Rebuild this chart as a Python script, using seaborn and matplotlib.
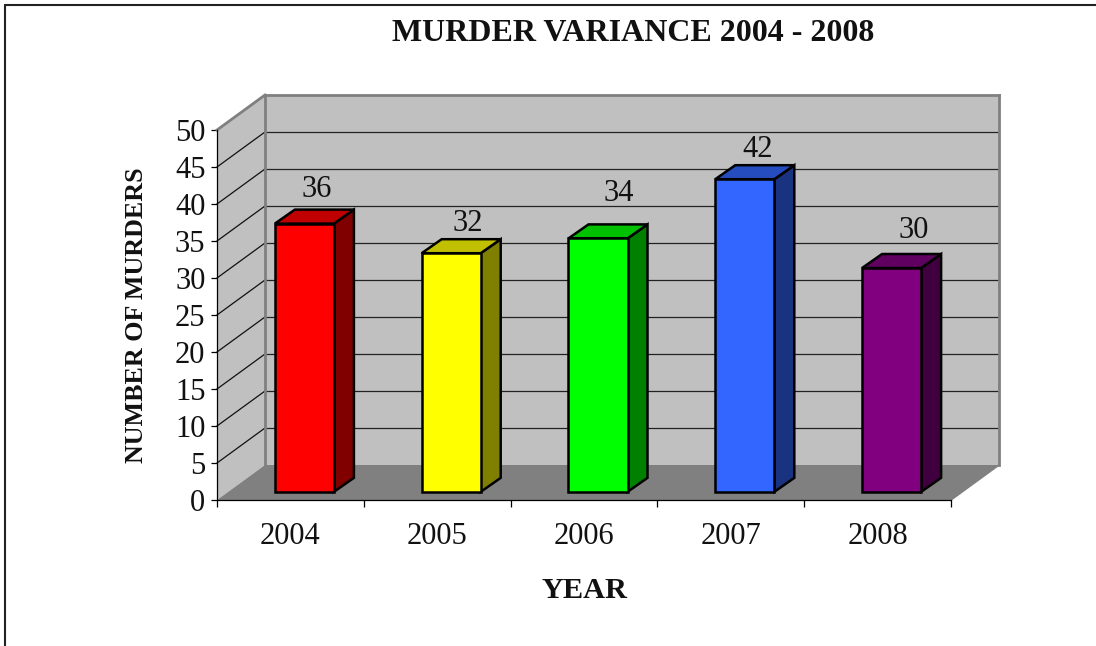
import matplotlib
matplotlib.use("Agg")
import matplotlib.pyplot as plt
import seaborn as sns
from matplotlib.lines import Line2D
from matplotlib.patches import Polygon
from matplotlib.transforms import IdentityTransform, Affine2D

years = ["2004", "2005", "2006", "2007", "2008"]
murders = [36, 32, 34, 42, 30]
y_ticks = [0, 5, 10, 15, 20, 25, 30, 35, 40, 45, 50]

front_colors = ["#ff0000", "#ffff00", "#00ff00", "#3366ff", "#800080"]
side_colors = ["#800000", "#808000", "#008000", "#1a3380", "#400040"]
top_colors = ["#c00000", "#c0c000", "#00c000", "#264dc0", "#600060"]

# where Excel happened to put each value label, pixels from the value's spot
label_dx = [26, 31, 35, 27, 36]
label_dy = [44, 40, 55, 40, 48]

sns.set_style("white")
plt.rcParams["font.family"] = ["Liberation Serif", "DejaVu Serif"]

W, H = 1096, 646
fig = plt.figure(figsize=(W / 100, H / 100), dpi=100)
ax = fig.add_axes([217 / W, (H - 500) / H, 734 / W, 370 / H])

# depth of the box and of the bars, pixels
DEPTH_X, DEPTH_Y = 48, 35
BAR_X, BAR_Y = 14, 10
BAR_DX, BAR_DY = 20, 14

sns.barplot(x=years, y=murders, hue=years, palette=front_colors, legend=False,
            width=0.402, saturation=1, edgecolor="black", linewidth=1.8, ax=ax, zorder=5)
ax.set_xlim(-0.5, 4.5)
ax.set_ylim(0, 50)


def to_px(x, y, dx=0, dy=0):
    px, py = ax.transData.transform((x, y))
    return (px + dx, py + dy)


def poly(points, color, edge="none", lw=0, zorder=1):
    ax.add_patch(Polygon(points, closed=True, facecolor=color, edgecolor=edge, linewidth=lw,
                         transform=IdentityTransform(), clip_on=False, zorder=zorder,
                         joinstyle="miter"))


def seg(p, q, color, lw, zorder=2):
    ax.add_line(Line2D([p[0], q[0]], [p[1], q[1]], color=color, linewidth=lw,
                       transform=IdentityTransform(), clip_on=False, zorder=zorder,
                       solid_capstyle="projecting"))


x0, x1 = -0.5, 4.5
# walls and floor
poly([to_px(x0, 0), to_px(x0, 50), to_px(x0, 50, DEPTH_X, DEPTH_Y), to_px(x0, 0, DEPTH_X, DEPTH_Y)], "#c0c0c0")
poly([to_px(x0, 0, DEPTH_X, DEPTH_Y), to_px(x0, 50, DEPTH_X, DEPTH_Y),
      to_px(x1, 50, DEPTH_X, DEPTH_Y), to_px(x1, 0, DEPTH_X, DEPTH_Y)], "#c0c0c0")
poly([to_px(x0, 0), to_px(x1, 0), to_px(x1, 0, DEPTH_X, DEPTH_Y), to_px(x0, 0, DEPTH_X, DEPTH_Y)], "#808080")

for t in y_ticks[1:-1]:
    seg(to_px(x0, t), to_px(x0, t, DEPTH_X, DEPTH_Y), "#111111", 0.9)
    seg(to_px(x0, t, DEPTH_X, DEPTH_Y), to_px(x1, t, DEPTH_X, DEPTH_Y), "#222222", 0.9)

seg(to_px(x0, 50), to_px(x0, 50, DEPTH_X, DEPTH_Y), "#808080", 2, 3)
seg(to_px(x0, 0, DEPTH_X, DEPTH_Y), to_px(x0, 50, DEPTH_X, DEPTH_Y), "#808080", 2, 3)
seg(to_px(x0, 50, DEPTH_X, DEPTH_Y), to_px(x1, 50, DEPTH_X, DEPTH_Y), "#808080", 2, 3)
seg(to_px(x1, 0, DEPTH_X, DEPTH_Y), to_px(x1, 50, DEPTH_X, DEPTH_Y), "#808080", 2, 3)
seg(to_px(x1, 0), to_px(x1, 0, DEPTH_X, DEPTH_Y), "#808080", 1.2, 3)

# push the seaborn bars back onto the floor, then add their side and top
shift = Affine2D().translate(BAR_X, BAR_Y)
for i, bar in enumerate(ax.patches[:len(years)]):
    bar.set_y(-0.25)
    bar.set_height(murders[i] + 0.25)
    bar.set_transform(ax.transData + shift)
    bar.set_clip_on(False)
    bar.set_joinstyle("miter")
    left, right = bar.get_x(), bar.get_x() + bar.get_width()
    low, high = bar.get_y(), bar.get_y() + bar.get_height()
    fl = to_px(left, high, BAR_X, BAR_Y)
    fr = to_px(right, high, BAR_X, BAR_Y)
    br = to_px(right, low, BAR_X, BAR_Y)
    poly([fr, br, (br[0] + BAR_DX, br[1] + BAR_DY), (fr[0] + BAR_DX, fr[1] + BAR_DY)],
         side_colors[i], "black", 1.8, 4)
    poly([fl, fr, (fr[0] + BAR_DX, fr[1] + BAR_DY), (fl[0] + BAR_DX, fl[1] + BAR_DY)],
         top_colors[i], "black", 1.8, 4)
    ax.annotate(str(murders[i]), xy=(i, murders[i]), xytext=(label_dx[i] * 0.72, label_dy[i] * 0.72),
                textcoords="offset points", ha="center", va="center", fontsize=22, color="#111111", zorder=6)

# axes
for s in ["top", "right"]:
    ax.spines[s].set_visible(False)
for s in ["left", "bottom"]:
    ax.spines[s].set_linewidth(0.9)
    ax.spines[s].set_color("black")
    ax.spines[s].set_zorder(3)
ax.set_yticks(y_ticks)
ax.set_xticks([-0.5, 0.5, 1.5, 2.5, 3.5, 4.5], minor=True)
ax.tick_params(axis="x", which="major", length=0, labelsize=22, pad=16, labelcolor="#111111")
ax.tick_params(axis="x", which="minor", length=5, width=0.9, color="black", bottom=True)
ax.tick_params(axis="y", which="major", length=4.3, width=0.9, color="black", left=True,
               labelsize=22, pad=4, labelcolor="#111111")

ax.set_xlabel("YEAR", fontsize=21.8, fontweight="bold", color="#111111", va="center")
ax.xaxis.set_label_coords(0.501, -0.245)
ax.set_ylabel("NUMBER OF MURDERS", fontsize=18.7, fontweight="bold", color="#111111", va="center")
ax.yaxis.set_label_coords(-0.11, 0.5)
ax.set_title("MURDER VARIANCE 2004 - 2008", fontsize=23, fontweight="bold", color="#111111",
             x=0.567, y=1.238, va="center")

# chart frame, cut off by the image at right and bottom
fig.add_artist(Line2D([5 / W, 5 / W], [0, (H - 5) / H], color="#222222", linewidth=1.5))
fig.add_artist(Line2D([5 / W, 1], [(H - 5) / H, (H - 5) / H], color="#222222", linewidth=1.5))

fig.savefig("out.png", dpi=100)
